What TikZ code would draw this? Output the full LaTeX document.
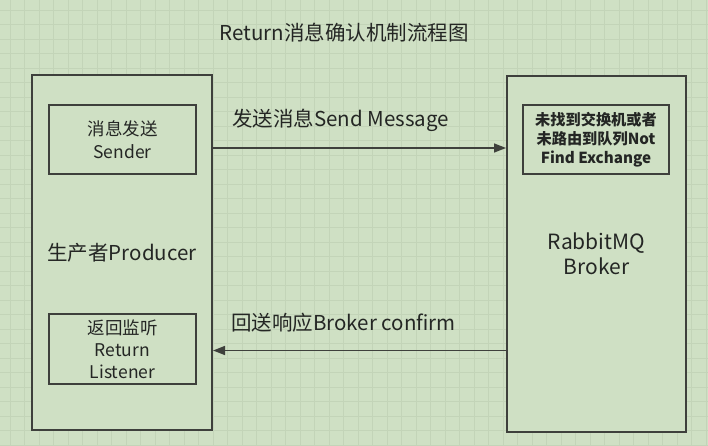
\documentclass[tikz,border=0pt]{standalone}
\usepackage{fontspec}
\setmainfont{Noto Sans CJK SC}
\usetikzlibrary{arrows.meta}
\definecolor{bggreen}{RGB}{207,224,196}
\definecolor{gridgreen}{RGB}{195,212,184}
\definecolor{boxline}{RGB}{62,64,60}
\definecolor{txt}{RGB}{36,38,36}
\tikzset{
  box/.style={draw=boxline,line width=2pt,fill=bggreen,inner sep=0pt,text=txt,align=center},
  msg/.style={draw=boxline,line width=1.6pt,-{Triangle[length=12pt,width=9pt]}},
  lbl/.style={text=txt,anchor=west,inner sep=0pt,font=\fontsize{20.5}{22}\selectfont},
}

\begin{document}
\begin{tikzpicture}[x=1pt,y=-1pt]
            \fill[bggreen] (0,0) rectangle (708,446);
            \useasboundingbox (0,0) rectangle (708,446);
            % background grid
            \foreach \i in {0,...,48} {
                \draw[gridgreen,line width=0.8pt] (10+\i*14.5,0) -- (10+\i*14.5,446);
            }
            \foreach \j in {0,...,30} {
                \draw[gridgreen,line width=0.8pt] (0,10+\j*14.5) -- (708,10+\j*14.5);
            }

            \node[text=txt,font=\fontsize{20.5}{22}\selectfont] (title) at (344,33) {Return消息确认机制流程图};

            % producer side
            \node[box,minimum width=180pt,minimum height=355pt,font=\fontsize{20.5}{22}\selectfont] (producer) at (122,252.5) {生产者Producer};
            \node[box,minimum width=147pt,minimum height=69pt,font=\fontsize{17.5}{23}\selectfont] (sender) at (122.5,139.5) {消息发送\\Sender};
            \node[box,minimum width=147pt,minimum height=70pt,font=\fontsize{17.5}{22}\selectfont] (listener) at (122.5,349) {返回监听\\Return\\Listener};

            % broker side
            \node[box,minimum width=179pt,minimum height=356pt,font=\fontsize{21}{25}\selectfont] (broker) at (596.5,254) {RabbitMQ\\Broker};
            \node[box,minimum width=146pt,minimum height=69pt,font=\bfseries\fontsize{15.2}{19}\selectfont] (notfound) at (596,139.5) {未找到交换机或者\\未路由到队列Not\\Find Exchange};

            \draw[msg] (producer.east |- 0,148) -- (broker.west |- 0,148);
            \draw[msg] (broker.west |- 0,350.5) -- (producer.east |- 0,350.5);

            \node[lbl] (sendlbl) at (232,120) {发送消息Send Message};
            \node[lbl] (confirmlbl) at (231,323) {回送响应Broker confirm};

        \end{tikzpicture}
\end{document}
